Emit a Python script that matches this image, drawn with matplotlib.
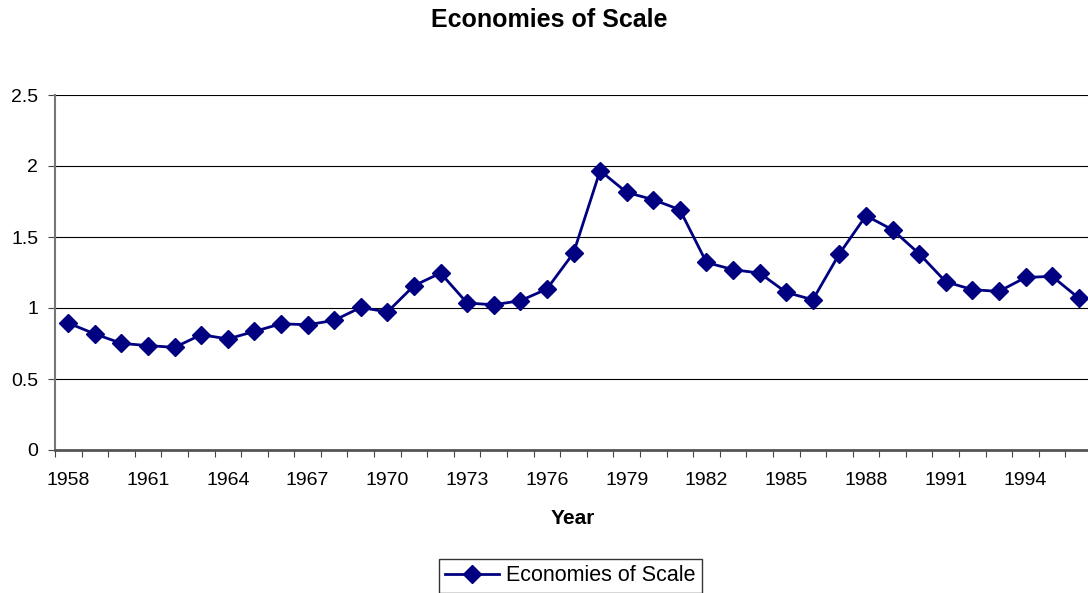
import numpy as np
import matplotlib.pyplot as plt

plt.rcParams['font.family'] = ['Liberation Sans', 'DejaVu Sans']

years = list(range(1958, 1997))
values = [0.894, 0.817, 0.751, 0.735, 0.723, 0.812, 0.782, 0.835, 0.889, 0.882,
          0.913, 1.004, 0.972, 1.157, 1.246, 1.035, 1.023, 1.051, 1.134, 1.387,
          1.967, 1.814, 1.763, 1.692, 1.321, 1.270, 1.246, 1.110, 1.058, 1.382,
          1.650, 1.551, 1.382, 1.185, 1.129, 1.117, 1.215, 1.223, 1.070]
yticks = [0, 0.5, 1, 1.5, 2, 2.5]
ytick_labels = ['0', '0.5', '1', '1.5', '2', '2.5']

W, H = 1088, 593
fig = plt.figure(figsize=(W / 100, H / 100), dpi=100)
# plot area runs slightly past the right edge, like the original
ax = fig.add_axes([55 / W, 1 - 450 / H, (1092 - 55) / W, (450 - 95) / H])

x = np.arange(len(years))
ax.plot(x, values, color='#000080', linewidth=2, marker='D', markersize=9,
        label='Economies of Scale', zorder=3)

ax.set_xlim(-0.5, len(years) - 0.5)
ax.set_ylim(0, 2.5)
ax.set_yticks(yticks)
ax.set_yticklabels(ytick_labels, fontsize=14)
ax.yaxis.grid(True, color='black', linewidth=0.8)

# category ticks between points, labels every 3rd year
ax.set_xticks(np.arange(len(years) + 1) - 0.5)
ax.set_xticklabels([])
ax.set_xticks(x[::3], minor=True)
ax.set_xticklabels([str(y) for y in years[::3]], minor=True, fontsize=14)
ax.tick_params(axis='x', which='minor', length=0, pad=16)
ax.tick_params(axis='x', which='major', length=5, color='#444444')
ax.tick_params(axis='y', length=5, color='#444444', pad=7)

for s in ['top', 'right']:
    ax.spines[s].set_visible(False)
ax.spines['left'].set_color('#777777')
ax.spines['left'].set_linewidth(1.5)
ax.spines['bottom'].set_color('#555555')
ax.spines['bottom'].set_linewidth(2)

fig.text(549 / W, 1 - 20 / H, 'Economies of Scale', ha='center', va='center',
         fontsize=18, fontweight='bold')
fig.text(573 / W, 1 - 518 / H, 'Year', ha='center', va='center',
         fontsize=15, fontweight='bold')

leg = fig.legend(loc='upper left', bbox_to_anchor=(439 / W, 1 - 559 / H), fontsize=15.5,
                 frameon=True, fancybox=False, edgecolor='black', borderpad=0.3,
                 borderaxespad=0, handlelength=2.5, handletextpad=0.3)
leg.get_frame().set_linewidth(1)

fig.savefig('out.png', dpi=100)
